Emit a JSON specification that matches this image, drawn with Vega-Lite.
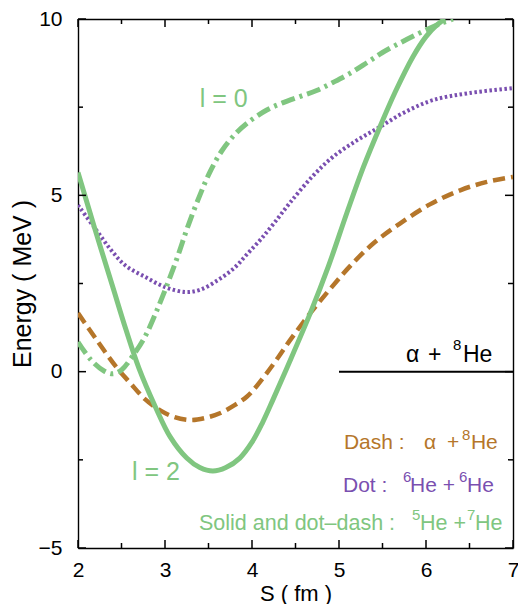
{
  "$schema": "https://vega.github.io/schema/vega-lite/v6.json",
  "width": 435,
  "height": 529,
  "autosize": {"type": "none"},
  "padding": {"left": 78, "top": 19, "right": 5, "bottom": 56},
  "background": "white",
  "config": {
    "view": {"stroke": null},
    "font": "Liberation Sans",
    "text": {"font": "Liberation Sans", "baseline": "alphabetic", "align": "left"},
    "tick": {"color": "black", "thickness": 1.5, "opacity": 1, "bandSize": 8},
    "axis": {
      "grid": false,
      "ticks": false,
      "domainColor": "black",
      "domainWidth": 1.4,
      "labelFont": "Liberation Sans",
      "labelFontSize": 21,
      "labelColor": "black",
      "titleFont": "Liberation Sans",
      "titleFontWeight": "normal",
      "titleColor": "black"
    }
  },
  "datasets": {
    "xticks": [
      {"S": 2, "major": true}, {"S": 2.5, "major": false}, {"S": 3, "major": true}, {"S": 3.5, "major": false},
      {"S": 4, "major": true}, {"S": 4.5, "major": false}, {"S": 5, "major": true}, {"S": 5.5, "major": false},
      {"S": 6, "major": true}, {"S": 6.5, "major": false}, {"S": 7, "major": true}
    ],
    "yticks": [
      {"E": -5, "major": true}, {"E": -2.5, "major": false}, {"E": 0, "major": true}, {"E": 2.5, "major": false},
      {"E": 5, "major": true}, {"E": 7.5, "major": false}, {"E": 10, "major": true}
    ],
    "curves": [
      {"curve": "alpha8He", "S": 2.0, "E": 1.66},
      {"curve": "alpha8He", "S": 2.2, "E": 0.95},
      {"curve": "alpha8He", "S": 2.44, "E": 0.13},
      {"curve": "alpha8He", "S": 2.6, "E": -0.32},
      {"curve": "alpha8He", "S": 2.77, "E": -0.78},
      {"curve": "alpha8He", "S": 2.94, "E": -1.09},
      {"curve": "alpha8He", "S": 3.1, "E": -1.28},
      {"curve": "alpha8He", "S": 3.29, "E": -1.37},
      {"curve": "alpha8He", "S": 3.45, "E": -1.32},
      {"curve": "alpha8He", "S": 3.63, "E": -1.18},
      {"curve": "alpha8He", "S": 3.8, "E": -0.95},
      {"curve": "alpha8He", "S": 3.94, "E": -0.71},
      {"curve": "alpha8He", "S": 4.05, "E": -0.42},
      {"curve": "alpha8He", "S": 4.17, "E": -0.04},
      {"curve": "alpha8He", "S": 4.3, "E": 0.4},
      {"curve": "alpha8He", "S": 4.44, "E": 0.9},
      {"curve": "alpha8He", "S": 4.67, "E": 1.66},
      {"curve": "alpha8He", "S": 4.9, "E": 2.35},
      {"curve": "alpha8He", "S": 5.13, "E": 3.0},
      {"curve": "alpha8He", "S": 5.4, "E": 3.65},
      {"curve": "alpha8He", "S": 5.7, "E": 4.2},
      {"curve": "alpha8He", "S": 6.05, "E": 4.75},
      {"curve": "alpha8He", "S": 6.4, "E": 5.15},
      {"curve": "alpha8He", "S": 6.7, "E": 5.38},
      {"curve": "alpha8He", "S": 7.0, "E": 5.52},

      {"curve": "6He6He", "S": 2.0, "E": 4.72},
      {"curve": "6He6He", "S": 2.2, "E": 4.05},
      {"curve": "6He6He", "S": 2.38, "E": 3.45},
      {"curve": "6He6He", "S": 2.55, "E": 3.0},
      {"curve": "6He6He", "S": 2.77, "E": 2.69},
      {"curve": "6He6He", "S": 3.0, "E": 2.4},
      {"curve": "6He6He", "S": 3.23, "E": 2.26},
      {"curve": "6He6He", "S": 3.4, "E": 2.32},
      {"curve": "6He6He", "S": 3.61, "E": 2.6},
      {"curve": "6He6He", "S": 3.8, "E": 2.95},
      {"curve": "6He6He", "S": 3.95, "E": 3.35},
      {"curve": "6He6He", "S": 4.1, "E": 3.75},
      {"curve": "6He6He", "S": 4.25, "E": 4.2},
      {"curve": "6He6He", "S": 4.44, "E": 4.8},
      {"curve": "6He6He", "S": 4.7, "E": 5.55},
      {"curve": "6He6He", "S": 4.93, "E": 6.09},
      {"curve": "6He6He", "S": 5.2, "E": 6.55},
      {"curve": "6He6He", "S": 5.47, "E": 6.94},
      {"curve": "6He6He", "S": 5.75, "E": 7.35},
      {"curve": "6He6He", "S": 6.08, "E": 7.7},
      {"curve": "6He6He", "S": 6.5, "E": 7.9},
      {"curve": "6He6He", "S": 7.0, "E": 8.04},

      {"curve": "l0", "S": 2.0, "E": 0.84},
      {"curve": "l0", "S": 2.15, "E": 0.33},
      {"curve": "l0", "S": 2.3, "E": 0.02},
      {"curve": "l0", "S": 2.4, "E": -0.06},
      {"curve": "l0", "S": 2.5, "E": 0.05},
      {"curve": "l0", "S": 2.63, "E": 0.45},
      {"curve": "l0", "S": 2.77, "E": 0.99},
      {"curve": "l0", "S": 2.9, "E": 1.7},
      {"curve": "l0", "S": 3.03, "E": 2.5},
      {"curve": "l0", "S": 3.15, "E": 3.3},
      {"curve": "l0", "S": 3.26, "E": 4.1},
      {"curve": "l0", "S": 3.4, "E": 5.0},
      {"curve": "l0", "S": 3.52, "E": 5.68},
      {"curve": "l0", "S": 3.65, "E": 6.25},
      {"curve": "l0", "S": 3.8, "E": 6.72},
      {"curve": "l0", "S": 3.95, "E": 7.06},
      {"curve": "l0", "S": 4.17, "E": 7.42},
      {"curve": "l0", "S": 4.35, "E": 7.62},
      {"curve": "l0", "S": 4.55, "E": 7.8},
      {"curve": "l0", "S": 4.75, "E": 7.98},
      {"curve": "l0", "S": 4.93, "E": 8.2},
      {"curve": "l0", "S": 5.12, "E": 8.45},
      {"curve": "l0", "S": 5.32, "E": 8.76},
      {"curve": "l0", "S": 5.5, "E": 9.05},
      {"curve": "l0", "S": 5.7, "E": 9.32},
      {"curve": "l0", "S": 5.9, "E": 9.57},
      {"curve": "l0", "S": 6.08, "E": 9.78},
      {"curve": "l0", "S": 6.2, "E": 9.9},
      {"curve": "l0", "S": 6.31, "E": 10.0},

      {"curve": "l2", "S": 2.0, "E": 5.65},
      {"curve": "l2", "S": 2.2, "E": 4.0},
      {"curve": "l2", "S": 2.4, "E": 2.4},
      {"curve": "l2", "S": 2.55, "E": 1.2},
      {"curve": "l2", "S": 2.7, "E": 0.1},
      {"curve": "l2", "S": 2.89, "E": -1.0},
      {"curve": "l2", "S": 3.06, "E": -1.85},
      {"curve": "l2", "S": 3.25, "E": -2.45},
      {"curve": "l2", "S": 3.4, "E": -2.72},
      {"curve": "l2", "S": 3.55, "E": -2.82},
      {"curve": "l2", "S": 3.7, "E": -2.72},
      {"curve": "l2", "S": 3.86, "E": -2.45},
      {"curve": "l2", "S": 4.0, "E": -2.0},
      {"curve": "l2", "S": 4.12, "E": -1.45},
      {"curve": "l2", "S": 4.24, "E": -0.8},
      {"curve": "l2", "S": 4.4, "E": 0.1},
      {"curve": "l2", "S": 4.67, "E": 1.66},
      {"curve": "l2", "S": 4.88, "E": 3.0},
      {"curve": "l2", "S": 5.09, "E": 4.5},
      {"curve": "l2", "S": 5.28, "E": 5.8},
      {"curve": "l2", "S": 5.47, "E": 6.94},
      {"curve": "l2", "S": 5.65, "E": 7.95},
      {"curve": "l2", "S": 5.85, "E": 8.93},
      {"curve": "l2", "S": 6.0, "E": 9.5},
      {"curve": "l2", "S": 6.12, "E": 9.82},
      {"curve": "l2", "S": 6.22, "E": 10.0}
    ]
  },
  "resolve": {"axis": {"x": "independent", "y": "independent"}},
  "layer": [
    {
      "data": {"name": "curves"},
      "transform": [{"filter": "datum.curve === 'alpha8He'"}],
      "mark": {"type": "line", "color": "#b5762a", "strokeWidth": 4.5, "strokeDash": [12, 6], "clip": true, "interpolate": "catmull-rom"},
      "encoding": {
        "x": {"field": "S", "type": "quantitative", "scale": {"domain": [2, 7], "nice": false, "zero": false},
          "axis": {"orient": "bottom", "values": [2, 3, 4, 5, 6, 7], "format": "d",
            "labelPadding": 11, "labelFlush": false,
            "title": "S ( fm )", "titleFontSize": 22, "titlePadding": 3}},
        "y": {"field": "E", "type": "quantitative", "scale": {"domain": [-5, 10], "nice": false, "zero": false},
          "axis": {"orient": "left", "values": [-5, 0, 5, 10], "format": "d",
            "labelPadding": 16, "labelFlush": false,
            "title": "Energy ( MeV )", "titleFontSize": 25, "titlePadding": 3}}
      }
    },
    {
      "data": {"name": "curves"},
      "transform": [{"filter": "datum.curve === '6He6He'"}],
      "mark": {"type": "line", "color": "#7a4fb0", "strokeWidth": 4, "strokeDash": [2.5, 2.5], "clip": true, "interpolate": "catmull-rom"},
      "encoding": {
        "x": {"field": "S", "type": "quantitative", "axis": null},
        "y": {"field": "E", "type": "quantitative", "axis": null}
      }
    },
    {
      "data": {"name": "curves"},
      "transform": [{"filter": "datum.curve === 'l0'"}],
      "mark": {"type": "line", "color": "#80c680", "strokeWidth": 5, "strokeDash": [14, 5, 3, 5], "clip": true, "interpolate": "catmull-rom"},
      "encoding": {
        "x": {"field": "S", "type": "quantitative", "axis": null},
        "y": {"field": "E", "type": "quantitative", "axis": null}
      }
    },
    {
      "data": {"name": "curves"},
      "transform": [{"filter": "datum.curve === 'l2'"}],
      "mark": {"type": "line", "color": "#80c680", "strokeWidth": 5, "clip": true, "interpolate": "catmull-rom"},
      "encoding": {
        "x": {"field": "S", "type": "quantitative", "axis": null},
        "y": {"field": "E", "type": "quantitative", "axis": null}
      }
    },
    {
      "data": {"values": [{"S": 5.0, "S2": 7.0, "E": 0}]},
      "mark": {"type": "rule", "color": "black", "strokeWidth": 2},
      "encoding": {
        "x": {"field": "S", "type": "quantitative",
          "axis": {"orient": "top", "values": [2, 3, 4, 5, 6, 7], "labels": false, "title": null}},
        "x2": {"field": "S2"},
        "y": {"field": "E", "type": "quantitative",
          "axis": {"orient": "right", "values": [-5, 0, 5, 10], "labels": false, "title": null}}
      }
    },

    {"data": {"name": "xticks"}, "transform": [{"filter": "datum.major"}],
     "mark": {"type": "tick", "orient": "vertical", "size": 8, "yOffset": -4},
     "encoding": {"x": {"field": "S", "type": "quantitative", "axis": null}, "y": {"datum": -5, "type": "quantitative", "axis": null}}},
    {"data": {"name": "xticks"}, "transform": [{"filter": "!datum.major"}],
     "mark": {"type": "tick", "orient": "vertical", "size": 5, "yOffset": -2.5},
     "encoding": {"x": {"field": "S", "type": "quantitative", "axis": null}, "y": {"datum": -5, "type": "quantitative", "axis": null}}},
    {"data": {"name": "xticks"}, "transform": [{"filter": "datum.major"}],
     "mark": {"type": "tick", "orient": "vertical", "size": 8, "yOffset": 4},
     "encoding": {"x": {"field": "S", "type": "quantitative", "axis": null}, "y": {"datum": 10, "type": "quantitative", "axis": null}}},
    {"data": {"name": "xticks"}, "transform": [{"filter": "!datum.major"}],
     "mark": {"type": "tick", "orient": "vertical", "size": 5, "yOffset": 2.5},
     "encoding": {"x": {"field": "S", "type": "quantitative", "axis": null}, "y": {"datum": 10, "type": "quantitative", "axis": null}}},
    {"data": {"name": "yticks"}, "transform": [{"filter": "datum.major"}],
     "mark": {"type": "tick", "orient": "horizontal", "size": 8, "xOffset": 4},
     "encoding": {"y": {"field": "E", "type": "quantitative", "axis": null}, "x": {"datum": 2, "type": "quantitative", "axis": null}}},
    {"data": {"name": "yticks"}, "transform": [{"filter": "!datum.major"}],
     "mark": {"type": "tick", "orient": "horizontal", "size": 5, "xOffset": 2.5},
     "encoding": {"y": {"field": "E", "type": "quantitative", "axis": null}, "x": {"datum": 2, "type": "quantitative", "axis": null}}},
    {"data": {"name": "yticks"}, "transform": [{"filter": "datum.major"}],
     "mark": {"type": "tick", "orient": "horizontal", "size": 8, "xOffset": -4},
     "encoding": {"y": {"field": "E", "type": "quantitative", "axis": null}, "x": {"datum": 7, "type": "quantitative", "axis": null}}},
    {"data": {"name": "yticks"}, "transform": [{"filter": "!datum.major"}],
     "mark": {"type": "tick", "orient": "horizontal", "size": 5, "xOffset": -2.5},
     "encoding": {"y": {"field": "E", "type": "quantitative", "axis": null}, "x": {"datum": 7, "type": "quantitative", "axis": null}}},

    {"data": {"values": [{"t": "α", "S": 5.77, "E": 0.28}]},
     "mark": {"type": "text", "fontSize": 23, "color": "black"},
     "encoding": {"x": {"field": "S", "type": "quantitative", "axis": null}, "y": {"field": "E", "type": "quantitative", "axis": null}, "text": {"field": "t"}}},
    {"data": {"values": [{"t": "+", "S": 5.77, "E": 0.28}]},
     "mark": {"type": "text", "fontSize": 23, "color": "black", "dx": 22},
     "encoding": {"x": {"field": "S", "type": "quantitative", "axis": null}, "y": {"field": "E", "type": "quantitative", "axis": null}, "text": {"field": "t"}}},
    {"data": {"values": [{"t": "8", "S": 5.77, "E": 0.28}]},
     "mark": {"type": "text", "fontSize": 15, "color": "black", "dx": 47, "dy": -12},
     "encoding": {"x": {"field": "S", "type": "quantitative", "axis": null}, "y": {"field": "E", "type": "quantitative", "axis": null}, "text": {"field": "t"}}},
    {"data": {"values": [{"t": "He", "S": 5.77, "E": 0.28}]},
     "mark": {"type": "text", "fontSize": 23, "color": "black", "dx": 57},
     "encoding": {"x": {"field": "S", "type": "quantitative", "axis": null}, "y": {"field": "E", "type": "quantitative", "axis": null}, "text": {"field": "t"}}},

    {"data": {"values": [{"t": "l = 0", "S": 3.4, "E": 7.5}, {"t": "l = 2", "S": 2.62, "E": -3.07}]},
     "mark": {"type": "text", "fontSize": 25, "color": "#80c680"},
     "encoding": {"x": {"field": "S", "type": "quantitative", "axis": null}, "y": {"field": "E", "type": "quantitative", "axis": null}, "text": {"field": "t"}}},

    {"data": {"values": [{"t": "Dash :", "S": 5.057, "E": -2.19}]},
     "mark": {"type": "text", "fontSize": 21, "color": "#b5762a"},
     "encoding": {"x": {"field": "S", "type": "quantitative", "axis": null}, "y": {"field": "E", "type": "quantitative", "axis": null}, "text": {"field": "t"}}},
    {"data": {"values": [{"t": "α", "S": 5.057, "E": -2.19}]},
     "mark": {"type": "text", "fontSize": 21, "color": "#b5762a", "dx": 80},
     "encoding": {"x": {"field": "S", "type": "quantitative", "axis": null}, "y": {"field": "E", "type": "quantitative", "axis": null}, "text": {"field": "t"}}},
    {"data": {"values": [{"t": "+", "S": 5.057, "E": -2.19}]},
     "mark": {"type": "text", "fontSize": 21, "color": "#b5762a", "dx": 103},
     "encoding": {"x": {"field": "S", "type": "quantitative", "axis": null}, "y": {"field": "E", "type": "quantitative", "axis": null}, "text": {"field": "t"}}},
    {"data": {"values": [{"t": "8", "S": 5.057, "E": -2.19}]},
     "mark": {"type": "text", "fontSize": 15, "color": "#b5762a", "dx": 118, "dy": -9},
     "encoding": {"x": {"field": "S", "type": "quantitative", "axis": null}, "y": {"field": "E", "type": "quantitative", "axis": null}, "text": {"field": "t"}}},
    {"data": {"values": [{"t": "He", "S": 5.057, "E": -2.19}]},
     "mark": {"type": "text", "fontSize": 21, "color": "#b5762a", "dx": 127},
     "encoding": {"x": {"field": "S", "type": "quantitative", "axis": null}, "y": {"field": "E", "type": "quantitative", "axis": null}, "text": {"field": "t"}}},

    {"data": {"values": [{"t": "Dot :", "S": 5.046, "E": -3.41}]},
     "mark": {"type": "text", "fontSize": 21, "color": "#7a4fb0"},
     "encoding": {"x": {"field": "S", "type": "quantitative", "axis": null}, "y": {"field": "E", "type": "quantitative", "axis": null}, "text": {"field": "t"}}},
    {"data": {"values": [{"t": "6", "S": 5.046, "E": -3.41}]},
     "mark": {"type": "text", "fontSize": 15, "color": "#7a4fb0", "dx": 60, "dy": -10},
     "encoding": {"x": {"field": "S", "type": "quantitative", "axis": null}, "y": {"field": "E", "type": "quantitative", "axis": null}, "text": {"field": "t"}}},
    {"data": {"values": [{"t": "He +", "S": 5.046, "E": -3.41}]},
     "mark": {"type": "text", "fontSize": 21, "color": "#7a4fb0", "dx": 67},
     "encoding": {"x": {"field": "S", "type": "quantitative", "axis": null}, "y": {"field": "E", "type": "quantitative", "axis": null}, "text": {"field": "t"}}},
    {"data": {"values": [{"t": "6", "S": 5.046, "E": -3.41}]},
     "mark": {"type": "text", "fontSize": 15, "color": "#7a4fb0", "dx": 116, "dy": -10},
     "encoding": {"x": {"field": "S", "type": "quantitative", "axis": null}, "y": {"field": "E", "type": "quantitative", "axis": null}, "text": {"field": "t"}}},
    {"data": {"values": [{"t": "He", "S": 5.046, "E": -3.41}]},
     "mark": {"type": "text", "fontSize": 21, "color": "#7a4fb0", "dx": 124},
     "encoding": {"x": {"field": "S", "type": "quantitative", "axis": null}, "y": {"field": "E", "type": "quantitative", "axis": null}, "text": {"field": "t"}}},

    {"data": {"values": [{"t": "Solid and dot–dash :", "S": 3.391, "E": -4.49}]},
     "mark": {"type": "text", "fontSize": 21.5, "color": "#80c680"},
     "encoding": {"x": {"field": "S", "type": "quantitative", "axis": null}, "y": {"field": "E", "type": "quantitative", "axis": null}, "text": {"field": "t"}}},
    {"data": {"values": [{"t": "5", "S": 3.391, "E": -4.49}]},
     "mark": {"type": "text", "fontSize": 15, "color": "#80c680", "dx": 213, "dy": -10},
     "encoding": {"x": {"field": "S", "type": "quantitative", "axis": null}, "y": {"field": "E", "type": "quantitative", "axis": null}, "text": {"field": "t"}}},
    {"data": {"values": [{"t": "He +", "S": 3.391, "E": -4.49}]},
     "mark": {"type": "text", "fontSize": 21.5, "color": "#80c680", "dx": 221},
     "encoding": {"x": {"field": "S", "type": "quantitative", "axis": null}, "y": {"field": "E", "type": "quantitative", "axis": null}, "text": {"field": "t"}}},
    {"data": {"values": [{"t": "7", "S": 3.391, "E": -4.49}]},
     "mark": {"type": "text", "fontSize": 15, "color": "#80c680", "dx": 268, "dy": -10},
     "encoding": {"x": {"field": "S", "type": "quantitative", "axis": null}, "y": {"field": "E", "type": "quantitative", "axis": null}, "text": {"field": "t"}}},
    {"data": {"values": [{"t": "He", "S": 3.391, "E": -4.49}]},
     "mark": {"type": "text", "fontSize": 21.5, "color": "#80c680", "dx": 276},
     "encoding": {"x": {"field": "S", "type": "quantitative", "axis": null}, "y": {"field": "E", "type": "quantitative", "axis": null}, "text": {"field": "t"}}}
  ]
}
